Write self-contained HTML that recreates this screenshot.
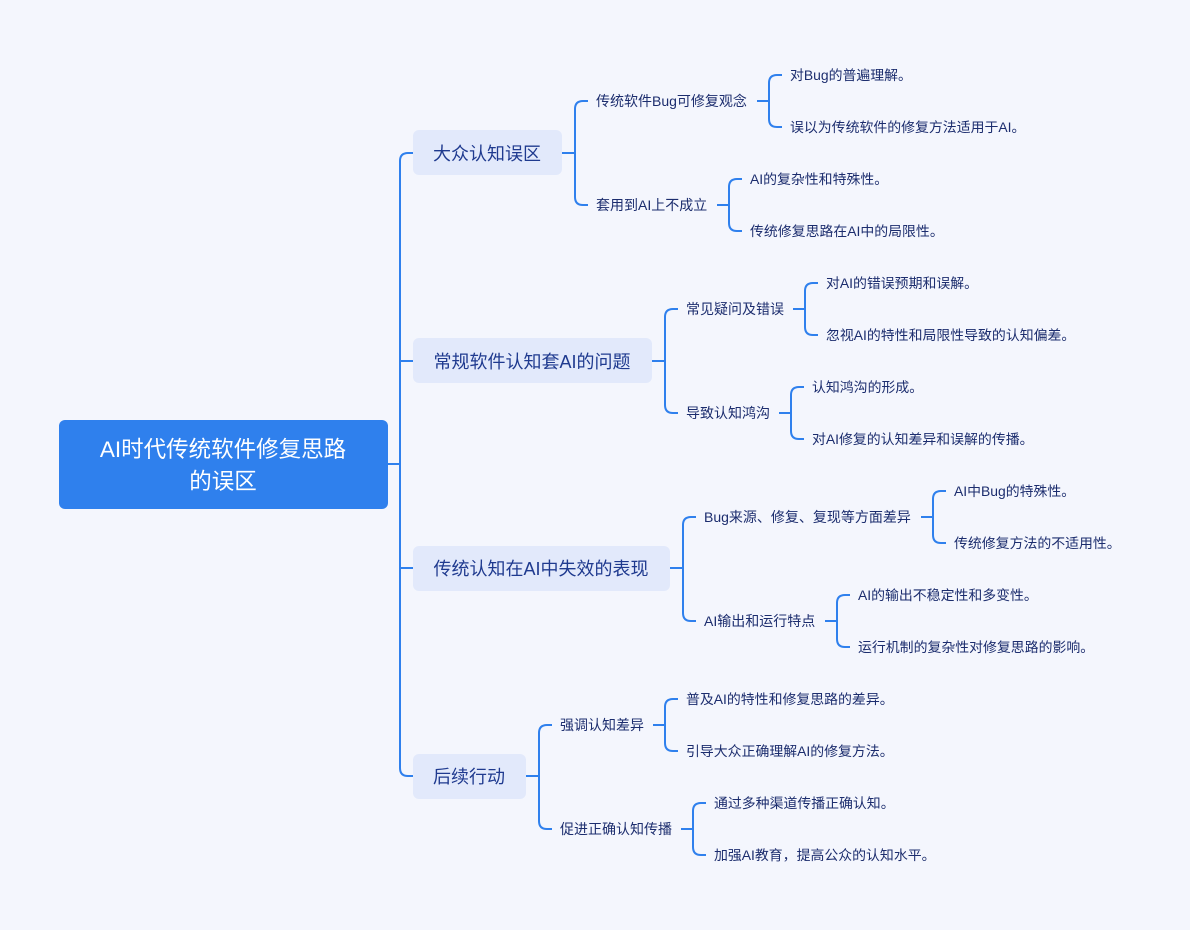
<!DOCTYPE html>
<html><head><meta charset="utf-8"><style>
html,body{margin:0;padding:0;background:#f4f6fd;}
svg{display:block;font-family:"Liberation Sans","Noto Sans CJK SC",sans-serif;}
.l{fill:none;stroke:#2f80ed;stroke-width:2;}
.t1{font-size:18px;fill:#1f3a8f;}
.t2{font-size:14px;fill:#1c2d6e;}
.t3{font-size:13.9px;fill:#1c2d6e;}
</style></head><body>
<svg width="1190" height="930" viewBox="0 0 1190 930">
<rect width="1190" height="930" fill="#f4f6fd"/>
<path class="l" d="M388 464H400M413 153H408Q400 153 400 161V768Q400 776 408 776H413M400 361H413M400 568H413"/>
<rect x="59" y="420" width="329" height="89" rx="6" fill="#2f80ed"/>
<text x="223" y="457" text-anchor="middle" font-size="22.5" fill="#fff">AI时代传统软件修复思路</text>
<text x="223" y="489" text-anchor="middle" font-size="22.5" fill="#fff">的误区</text>
<rect x="413" y="130" width="149" height="45" rx="6" fill="#e2e9fb"/>
<text class="t1" x="487" y="160" text-anchor="middle">大众认知误区</text>
<rect x="413" y="338" width="239" height="45" rx="6" fill="#e2e9fb"/>
<text class="t1" x="532" y="368" text-anchor="middle">常规软件认知套AI的问题</text>
<rect x="413" y="546" width="257" height="45" rx="6" fill="#e2e9fb"/>
<text class="t1" x="541" y="575" text-anchor="middle">传统认知在AI中失效的表现</text>
<rect x="413" y="754" width="113" height="45" rx="6" fill="#e2e9fb"/>
<text class="t1" x="469" y="783" text-anchor="middle">后续行动</text>
<path class="l" d="M562 153H575M588 101H583Q575 101 575 109V197Q575 205 583 205H588"/>
<path class="l" d="M652 361H665M678 309H673Q665 309 665 317V405Q665 413 673 413H678"/>
<path class="l" d="M670 568H683M696 517H691Q683 517 683 525V613Q683 621 691 621H696"/>
<path class="l" d="M526 776H539M552 725H547Q539 725 539 733V821Q539 829 547 829H552"/>
<text class="t2" x="596" y="106">传统软件Bug可修复观念</text>
<text class="t2" x="596" y="210">套用到AI上不成立</text>
<text class="t2" x="686" y="314">常见疑问及错误</text>
<text class="t2" x="686" y="418">导致认知鸿沟</text>
<text class="t2" x="704" y="522">Bug来源、修复、复现等方面差异</text>
<text class="t2" x="704" y="626">AI输出和运行特点</text>
<text class="t2" x="560" y="730">强调认知差异</text>
<text class="t2" x="560" y="834">促进正确认知传播</text>
<path class="l" d="M757 101H769M782 75H777Q769 75 769 83V119Q769 127 777 127H782"/>
<path class="l" d="M717 205H729M742 179H737Q729 179 729 187V223Q729 231 737 231H742"/>
<path class="l" d="M793 309H805M818 283H813Q805 283 805 291V327Q805 335 813 335H818"/>
<path class="l" d="M779 413H791M804 387H799Q791 387 791 395V431Q791 439 799 439H804"/>
<path class="l" d="M921 517H933M946 491H941Q933 491 933 499V535Q933 543 941 543H946"/>
<path class="l" d="M825 621H837M850 595H845Q837 595 837 603V639Q837 647 845 647H850"/>
<path class="l" d="M653 725H665M678 699H673Q665 699 665 707V743Q665 751 673 751H678"/>
<path class="l" d="M681 829H693M706 803H701Q693 803 693 811V847Q693 855 701 855H706"/>
<text class="t3" x="790" y="80">对Bug的普遍理解。</text>
<text class="t3" x="790" y="132">误以为传统软件的修复方法适用于AI。</text>
<text class="t3" x="750" y="184">AI的复杂性和特殊性。</text>
<text class="t3" x="750" y="236">传统修复思路在AI中的局限性。</text>
<text class="t3" x="826" y="288">对AI的错误预期和误解。</text>
<text class="t3" x="826" y="340">忽视AI的特性和局限性导致的认知偏差。</text>
<text class="t3" x="812" y="392">认知鸿沟的形成。</text>
<text class="t3" x="812" y="444">对AI修复的认知差异和误解的传播。</text>
<text class="t3" x="954" y="496">AI中Bug的特殊性。</text>
<text class="t3" x="954" y="548">传统修复方法的不适用性。</text>
<text class="t3" x="858" y="600">AI的输出不稳定性和多变性。</text>
<text class="t3" x="858" y="652">运行机制的复杂性对修复思路的影响。</text>
<text class="t3" x="686" y="704">普及AI的特性和修复思路的差异。</text>
<text class="t3" x="686" y="756">引导大众正确理解AI的修复方法。</text>
<text class="t3" x="714" y="808">通过多种渠道传播正确认知。</text>
<text class="t3" x="714" y="860">加强AI教育，提高公众的认知水平。</text>
</svg>
</body></html>
